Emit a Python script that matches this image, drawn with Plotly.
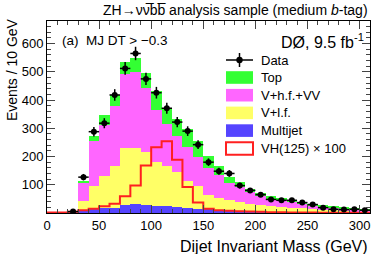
import numpy as np
import plotly.graph_objects as go

# ---- data (10 GeV bins, 0-310 GeV) ----
bin_edges_lo = list(range(0, 310, 10))
multijet = [0,0,1,8,15,16,18,27,31,28,25,24,21,17,15,13,11,9,8,7,6,5,5,4,4,3,3,2,2,2,1]
v_lf     = [0,0,1,34,81,114,148,204,200,188,155,143,124,98,80,50,41,36,30,25,21,19,16,15,13,12,9,8,6,5,5]
v_hf_vv  = [0,0,1,67,160,182,213,260,269,228,184,148,129,117,102,97,81,63,54,42,33,27,24,21,17,13,11,8,7,5,4]
top      = [0,0,0,2,17,35,38,45,48,53,68,58,58,65,59,43,35,19,17,12,10,9,8,7,6,5,4,4,3,3,2]
data     = [None,None,5,127,288,318,418,512,565,475,426,371,322,290,242,180,148,140,97,80,65,48,45,45,37,30,19,13,12,13,10]
signal100 = [2,2,4,10,15,24,33,59,97,168,233,254,189,92,37,15,10,8,6,5,4,3,3,2,2,2,1,1,1,1,1]

BW = 10
centers = [e + BW / 2 for e in bin_edges_lo]
edges = bin_edges_lo + [bin_edges_lo[-1] + BW]

C_MJ = "#5544ff"
C_LF = "#ffff66"
C_HF = "#ff66ff"
C_TOP = "#33ff33"
C_SIG = "#ff2020"
FONT = "Liberation Sans, Arial, Helvetica, sans-serif"

fig = go.Figure()
for name, vals, col in [("Multijet", multijet, C_MJ), ("V+l.f.", v_lf, C_LF),
                        ("V+h.f.+VV", v_hf_vv, C_HF), ("Top", top, C_TOP)]:
    fig.add_trace(go.Bar(x=centers, y=vals, width=BW, name=name,
                         marker=dict(color=col, line=dict(width=0)),
                         showlegend=False))

fig.add_trace(go.Scatter(x=edges, y=signal100 + [signal100[-1]], mode="lines",
                         line=dict(color=C_SIG, width=2, shape="hv"),
                         showlegend=False))

dx, dy, derr = [], [], []
for c, d in zip(centers, data):
    if d is not None:
        dx.append(c); dy.append(d); derr.append(float(np.sqrt(d)))
fig.add_trace(go.Scatter(x=dx, y=dy, mode="markers",
                         marker=dict(color="black", size=6, symbol="circle"),
                         error_y=dict(type="data", array=derr, color="black", thickness=1.5, width=0),
                         error_x=dict(type="constant", value=BW / 2, color="black", thickness=1.5, width=0),
                         showlegend=False))

# plot area geometry (px) for paper conversions
L, R, T, B = 47, 370, 21, 213
W, H = 374, 254
def px(x): return (x - L) / (R - L)
def py(y): return (B - y) / (B - T)

shapes = []
annotations = []
# legend
ent_x0, ent_x1 = px(226), px(253)
hh = 6.3 / (B - T)
leg = [("Top", C_TOP, 77.5), ("V+h.f.+VV", C_HF, 95.2), ("V+l.f.", C_LF, 112.9),
       ("Multijet", C_MJ, 130.6), ("VH(125) × 100", None, 148.5)]
# data entry
yd = py(60)
shapes.append(dict(type="line", xref="paper", yref="paper", x0=ent_x0, x1=ent_x1, y0=yd, y1=yd,
                   line=dict(color="black", width=1.5)))
xm = px(239.5)
shapes.append(dict(type="line", xref="paper", yref="paper", x0=xm, x1=xm, y0=py(53), y1=py(67),
                   line=dict(color="black", width=1.5)))
shapes.append(dict(type="circle", xref="paper", yref="paper", x0=px(236.3), x1=px(242.7),
                   y0=py(63.2), y1=py(56.8), fillcolor="black", line=dict(color="black", width=0)))
annotations.append(dict(text="Data", xref="paper", yref="paper", x=px(259), y=yd, xanchor="left",
                        yanchor="middle", showarrow=False, font=dict(family=FONT, size=13, color="black")))
for name, col, yc in leg:
    yy = py(yc)
    if col is None:
        shapes.append(dict(type="rect", xref="paper", yref="paper", x0=ent_x0, x1=ent_x1,
                           y0=yy - hh, y1=yy + hh, fillcolor="white", line=dict(color=C_SIG, width=2)))
    else:
        shapes.append(dict(type="rect", xref="paper", yref="paper", x0=ent_x0, x1=ent_x1,
                           y0=yy - hh, y1=yy + hh, fillcolor=col, line=dict(width=0)))
    annotations.append(dict(text=name, xref="paper", yref="paper", x=px(259), y=yy, xanchor="left",
                            yanchor="middle", showarrow=False, font=dict(family=FONT, size=13, color="black")))

annotations += [
    dict(text="ZH→νν\u0305bb\u0305 analysis sample (medium <i>b</i>-tag)", xref="paper", yref="paper",
         x=1.0, y=py(10), xanchor="right", yanchor="middle", showarrow=False,
         font=dict(family=FONT, size=14, color="black")),
    dict(text="(a)  MJ DT > −0.3", xref="paper", yref="paper", x=px(60), y=py(41),
         xanchor="left", yanchor="middle", showarrow=False, font=dict(family=FONT, size=13.5, color="black")),
    dict(text="DØ, 9.5 fb<sup>-1</sup>", xref="paper", yref="paper", x=px(366), y=py(41),
         xanchor="right", yanchor="middle", showarrow=False, font=dict(family=FONT, size=16, color="black")),
    dict(text="Events / 10 GeV", xref="paper", yref="paper", x=px(12), y=py(70), textangle=-90,
         xanchor="center", yanchor="middle", showarrow=False, font=dict(family=FONT, size=14, color="black")),
    dict(text="Dijet Invariant Mass (GeV)", xref="paper", yref="paper", x=1.0, y=py(246),
         xanchor="right", yanchor="middle", showarrow=False, font=dict(family=FONT, size=16, color="black")),
]

fig.update_layout(
    width=W, height=H, barmode="stack", bargap=0,
    margin=dict(l=L, r=W - R, t=T, b=H - B, pad=0),
    paper_bgcolor="white", plot_bgcolor="white",
    font=dict(family=FONT, size=13, color="black"),
    shapes=shapes, annotations=annotations,
    xaxis=dict(range=[0, 310], tickmode="linear", tick0=0, dtick=50, ticks="inside", ticklen=8,
               tickwidth=1, showline=True, linecolor="black", linewidth=1, mirror="ticks",
               showgrid=False, zeroline=False,
               minor=dict(ticks="inside", ticklen=4, dtick=10, tickwidth=1, showgrid=False),
               tickfont=dict(family=FONT, size=13)),
    yaxis=dict(range=[0, 680], ticks="inside", ticklen=8,
               tickwidth=1, showline=True, linecolor="black", linewidth=1, mirror="ticks",
               showgrid=False, zeroline=False, showticklabels=True,
               tickmode="array", tickvals=[100, 200, 300, 400, 500, 600],
               minor=dict(ticks="inside", ticklen=4, dtick=20, tick0=0, tickwidth=1, showgrid=False),
               tickfont=dict(family=FONT, size=13)),
)

fig.write_html("out.html", config={"displayModeBar": False},
               post_script="document.body.style.margin='0';document.body.style.overflow='hidden';")
